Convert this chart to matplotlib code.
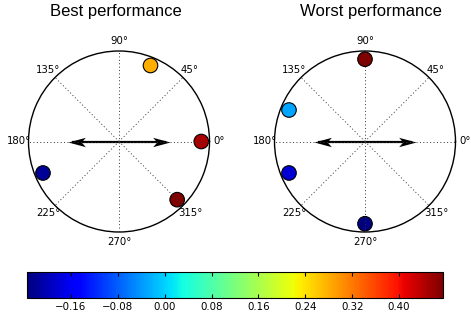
import numpy as np
import matplotlib
matplotlib.use("Agg")
import matplotlib.pyplot as plt
from matplotlib.markers import MarkerStyle
from matplotlib.path import Path
from matplotlib.transforms import Affine2D
import matplotlib.colors as mcolors

# ---- data ----
titles = ["Best performance", "Worst performance"]
best_angles_deg = [67.5, 0.0, 315.0, 202.5]
best_radii = [1.0, 1.0, 1.0, 1.0]
best_values = [0.28, 0.45, 0.475, -0.22]
worst_angles_deg = [90.0, 157.5, 202.5, 270.0]
worst_radii = [1.0, 1.0, 1.0, 1.0]
worst_values = [0.475, -0.03, -0.18, -0.235]
arrow_angles_deg = [0.0, 180.0]
arrow_length = 0.62
theta_ticks_deg = [0, 45, 90, 135, 180, 225, 270, 315]
theta_tick_labels = ["0°", "45°", "90°", "135°", "180°", "225°", "270°", "315°"]
cbar_ticks = [-0.16, -0.08, 0.00, 0.08, 0.16, 0.24, 0.32, 0.40]
vmin, vmax = -0.235, 0.475

W, H = 471, 322
fig = plt.figure(figsize=(W / 100, H / 100), dpi=100)
cmap = plt.get_cmap("jet")
norm = mcolors.Normalize(vmin=vmin, vmax=vmax)

head_path = Path([(0, 0), (-1.0, 0.27), (-0.76, 0), (-1.0, -0.27), (0, 0)],
                 [Path.MOVETO, Path.LINETO, Path.LINETO, Path.LINETO, Path.CLOSEPOLY])

def make_polar(rect, angles, radii, values):
    ax = fig.add_axes(rect, projection="polar")
    ax.set_ylim(0, 1.1)
    ax.set_yticks([])
    ax.set_xticks(np.deg2rad(theta_ticks_deg))
    ax.set_xticklabels([])
    ax.tick_params(axis="x", length=0)
    ax.grid(True, axis="x", color="0.2", linestyle=(0, (1, 2.5)), linewidth=0.7)
    ax.set_axisbelow(False)
    ax.spines["polar"].set_linewidth(1.0)
    ax.spines["polar"].set_color("black")
    ax.scatter(np.deg2rad(angles), radii, c=values, cmap=cmap, norm=norm,
               s=110, edgecolors="black", linewidths=0.8, zorder=1, clip_on=False)
    for a in arrow_angles_deg:
        t = np.deg2rad(a)
        ax.plot([t, t], [0, arrow_length * 0.93], color="black", lw=1.6,
                solid_capstyle="butt", zorder=2)
        m = MarkerStyle(head_path, transform=Affine2D().rotate_deg(a))
        ax.plot([t], [arrow_length], marker=m, markersize=25, color="black",
                markeredgewidth=0, linestyle="none", zorder=2)
    for d, lab in zip(theta_ticks_deg, theta_tick_labels):
        r = np.deg2rad(d)
        ax.text(0.5 + 0.555 * np.cos(r), 0.5 + 0.555 * np.sin(r), lab,
                transform=ax.transAxes, ha="center", va="center",
                fontsize=7.3, family="DejaVu Sans")
    return ax

ax1 = make_polar([28 / W, 1 - 232 / H, 182 / W, 181 / H],
                 best_angles_deg, best_radii, best_values)
ax2 = make_polar([274 / W, 1 - 232 / H, 182 / W, 181 / H],
                 worst_angles_deg, worst_radii, worst_values)

fig.text(115.5 / W, 1 - 16 / H, titles[0], ha="center", va="baseline",
         fontsize=12, family="Liberation Sans")
fig.text(370.5 / W, 1 - 16 / H, titles[1], ha="center", va="baseline",
         fontsize=12, family="Liberation Sans")

cax = fig.add_axes([27 / W, 1 - 298 / H, 416 / W, 26 / H])
sm = plt.cm.ScalarMappable(norm=norm, cmap=cmap)
cb = fig.colorbar(sm, cax=cax, orientation="horizontal", ticks=cbar_ticks)
cb.ax.set_xticklabels([f"{v:.2f}".replace("-", "\u2212") for v in cbar_ticks])
cb.ax.tick_params(direction="in", top=True, bottom=True, length=3, width=0.8,
                  labelsize=7.4, pad=3)
cb.outline.set_linewidth(0.8)

fig.savefig("out.png", dpi=100)
